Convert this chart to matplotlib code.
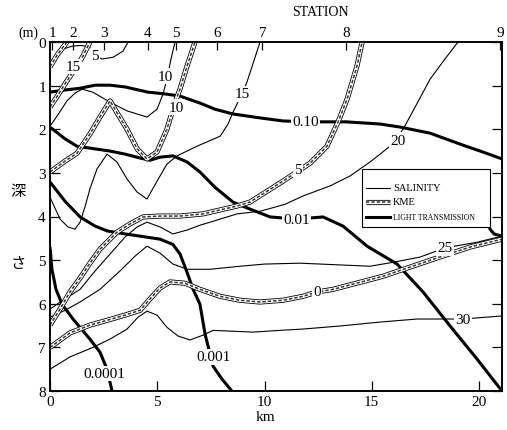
import matplotlib
matplotlib.use('Agg')
import matplotlib.pyplot as plt
from matplotlib.patches import Rectangle

plt.rcParams['font.family'] = ['Liberation Serif', 'DejaVu Serif']

# ---------------- data (km along section, depth in m) ----------------
stations = ['1', '2', '3', '4', '5', '6', '7', '8', '9']
station_km = [0.1, 1.07, 2.5, 4.57, 5.87, 7.8, 9.9, 13.8, 21.0]
x_ticks = [0, 5, 10, 15, 20]
depth_ticks = [0, 1, 2, 3, 4, 5, 6, 7, 8]

# salinity contours
sal5_km = [0.47, 0.61, 1.07, 1.5, 1.86, 2.10, 2.42, 2.94, 3.40, 3.64]
sal5_m = [0.21, 0.16, 0.09, 0.08, 0.13, 0.30, 0.39, 0.35, 0.21, 0.0]
sal10_km = [0, 0.37, 0.79, 1.17, 1.49, 2.0, 2.80, 3.6, 4.52, 4.99, 5.27, 5.45, 5.64, 5.83]
sal10_m = [1.93, 1.67, 1.35, 1.17, 1.08, 1.15, 1.38, 1.58, 1.72, 1.54, 1.19, 0.85, 0.39, 0.0]
sal15_km = [0, 0.47, 0.84, 1.17, 1.40, 1.63, 1.86, 2.19, 2.66, 3.12, 3.59, 4.06, 4.52, 4.99,
            5.45, 5.92, 6.85, 7.93, 8.30, 8.53, 8.76, 8.95, 9.18, 9.46, 9.79]
sal15_m = [3.56, 4.06, 4.24, 4.29, 4.13, 3.78, 3.37, 2.91, 2.57, 2.75, 3.14, 3.44, 3.60, 3.19,
           2.80, 2.61, 2.39, 2.16, 1.88, 1.61, 1.38, 1.19, 0.92, 0.50, 0.0]
sal20_km = [0, 0.70, 1.40, 2.10, 2.80, 3.50, 4.06, 4.52, 5.13, 5.73, 6.39, 6.99, 7.60, 8.72,
            9.79, 10.96, 11.79, 13.05, 13.99, 14.92, 15.85, 16.46, 17.02, 17.72, 18.41, 19.02]
sal20_m = [6.12, 5.89, 5.67, 5.25, 4.86, 4.47, 4.24, 4.13, 4.24, 4.40, 4.31, 4.20, 4.11, 3.94,
           3.88, 3.72, 3.53, 3.30, 3.07, 2.75, 2.39, 2.0, 1.49, 0.85, 0.39, 0.0]
sal25_km = [0, 0.70, 1.40, 2.33, 3.26, 3.96, 4.52, 5.13, 5.73, 6.39, 7.46, 8.86, 10.02, 11.66,
            13.52, 14.92, 15.99, 17.25, 18.41, 19.91, 21.07]
sal25_m = [6.31, 6.15, 5.96, 5.67, 5.25, 4.91, 4.68, 4.84, 5.09, 5.21, 5.21, 5.14, 5.09, 5.07,
           5.11, 5.14, 5.05, 4.93, 4.72, 4.59, 4.45]
sal30_km = [0, 0.93, 2.0, 2.80, 3.59, 4.10, 4.52, 4.99, 5.45, 5.97, 6.53, 7.13, 7.60, 8.53,
            9.46, 10.72, 11.79, 13.52, 15.38, 17.11, 19.25, 21.07]
sal30_m = [7.5, 7.22, 7.0, 6.81, 6.58, 6.31, 6.17, 6.26, 6.54, 6.74, 6.83, 6.72, 6.61, 6.63,
           6.65, 6.61, 6.58, 6.51, 6.42, 6.35, 6.35, 6.28]

# KME contours
kme_top_km = [0, 0.33, 0.79]
kme_top_m = [0.57, 0.30, 0.0]
kme15_km = [0, 0.37, 0.79, 1.17, 1.54, 1.86]
kme15_m = [1.49, 1.22, 0.89, 0.62, 0.32, 0.0]
kme10_km = [0, 0.70, 1.26, 1.86, 2.33, 2.80, 2.94, 3.59, 4.06, 4.52, 4.99, 5.45, 5.83, 6.06, 6.39, 6.76]
kme10_m = [2.98, 2.73, 2.55, 2.11, 1.72, 1.35, 1.47, 2.0, 2.45, 2.68, 2.52, 2.0, 1.38, 1.08, 0.55, 0.0]
kme5_km = [0, 0.47, 0.93, 1.40, 1.86, 2.33, 3.12, 3.73, 4.34, 5.13, 6.06, 7.13, 8.72, 9.32,
           10.86, 11.56, 12.12, 12.91, 13.43, 13.85, 14.31, 14.55]
kme5_m = [6.49, 6.12, 5.73, 5.41, 5.07, 4.75, 4.36, 4.17, 4.01, 3.99, 3.99, 3.94, 3.76, 3.67,
          3.19, 2.96, 2.78, 2.39, 1.83, 1.31, 0.55, 0.0]
kme0_km = [0, 0.93, 1.86, 2.66, 3.50, 4.20, 4.66, 5.13, 5.59, 6.29, 6.99, 7.93, 8.86, 9.79,
           10.86, 11.79, 12.45, 13.19, 15.52, 17.86, 19.58, 21.07]
kme0_m = [7.0, 6.67, 6.49, 6.38, 6.26, 6.15, 5.89, 5.64, 5.50, 5.53, 5.67, 5.83, 5.92, 5.96,
          5.92, 5.83, 5.73, 5.67, 5.37, 4.98, 4.70, 4.52]

# light transmission contours
lt010_km = [0, 0.70, 1.40, 2.10, 2.80, 3.50, 4.57, 5.36, 6.06, 6.99, 7.69, 8.53, 9.79, 10.86,
            12.12, 13.80, 15.38, 16.32, 17.72, 19.11, 20.05, 21.07]
lt010_m = [1.15, 1.10, 1.06, 0.99, 0.99, 1.03, 1.15, 1.19, 1.24, 1.40, 1.54, 1.65, 1.74, 1.81,
           1.83, 1.83, 1.88, 1.95, 2.09, 2.34, 2.50, 2.68]
lt001_km = [0, 0.70, 1.26, 2.10, 2.80, 3.50, 4.20, 4.66, 5.13, 5.73, 6.39, 6.99, 7.69, 8.53,
            9.32, 10.26, 11.51, 12.73, 13.66, 14.78, 16.18, 17.39, 18.65, 19.91, 21.07]
lt001_m = [1.95, 2.22, 2.39, 2.45, 2.50, 2.57, 2.66, 2.71, 2.64, 2.61, 2.75, 2.98, 3.33, 3.67,
           3.83, 4.01, 4.06, 4.01, 4.22, 4.68, 5.09, 5.73, 6.51, 7.27, 8.0]
lt0001_km = [0, 0.70, 1.40, 2.10, 2.66, 3.50, 4.20, 5.13, 5.73, 6.06, 6.39, 6.67, 6.99, 7.23,
             7.46, 7.60, 8.02, 8.48]
lt0001_m = [3.21, 3.65, 4.01, 4.22, 4.33, 4.40, 4.45, 4.52, 4.64, 4.86, 5.28, 5.67, 6.01, 6.70,
            7.15, 7.43, 7.73, 8.0]
lt00001_km = [0, 0.09, 0.28, 0.56, 1.07, 1.86, 2.33, 2.66, 2.89]
lt00001_m = [4.70, 5.21, 5.67, 6.01, 6.35, 6.81, 7.11, 7.50, 8.0]
lt_hook_km = [20.42, 20.51, 20.70, 21.07]
lt_hook_m = [4.11, 4.29, 4.40, 4.45]

# contour labels: (text, km, m)
sal_labels = [('5', 2.10, 0.31), ('10', 5.36, 0.78), ('15', 8.95, 1.19), ('20', 16.23, 2.25),
              ('25', 18.41, 4.72), ('30', 19.25, 6.35)]
kme_labels = [('15', 1.1, 0.56), ('10', 5.9, 1.49), ('5', 11.56, 2.93), ('0', 12.45, 5.71)]
lt_labels = [('0.10', 11.93, 1.83), ('0.01', 11.51, 4.06), ('0.001', 7.6, 7.22),
             ('0.0001', 2.52, 7.6)]

# ---------------- figure ----------------
fig = plt.figure(figsize=(5.07, 4.31), dpi=100)
ax = fig.add_axes([50 / 507, 1 - 392 / 431, 452 / 507, 349 / 431])
ax.set_xlim(0, 21.07)
ax.set_ylim(8, 0)


def thin(x, y, **kw):
    ax.plot(x, y, color='k', lw=0.8, zorder=2, **kw)


def thick(x, y, **kw):
    ax.plot(x, y, color='k', lw=2.2, zorder=2.5, solid_capstyle='butt', **kw)


def kme(x, y, **kw):
    ax.plot(x, y, color='k', lw=3.7, zorder=3, solid_capstyle='butt', **kw)
    ax.plot(x, y, color='w', lw=2.5, zorder=3.1, solid_capstyle='butt', **kw)
    ax.plot(x, y, color='#333333', lw=1.1, zorder=3.2, dashes=(2.2, 1.3), **kw)


for xs, ys in [(sal5_km, sal5_m), (sal10_km, sal10_m), (sal15_km, sal15_m),
               (sal20_km, sal20_m), (sal25_km, sal25_m), (sal30_km, sal30_m)]:
    thin(xs, ys)

for xs, ys in [(kme_top_km, kme_top_m), (kme15_km, kme15_m), (kme10_km, kme10_m),
               (kme5_km, kme5_m), (kme0_km, kme0_m)]:
    kme(xs, ys)

for xs, ys in [(lt010_km, lt010_m), (lt001_km, lt001_m), (lt0001_km, lt0001_m),
               (lt00001_km, lt00001_m), (lt_hook_km, lt_hook_m)]:
    thick(xs, ys)

lab_box = dict(boxstyle='square,pad=0.08', fc='white', ec='none')
for t, x, y in sal_labels + kme_labels + lt_labels:
    ax.text(x, y, t, ha='center', va='center', fontsize=11, bbox=lab_box, zorder=5)

# axes styling
for s in ax.spines.values():
    s.set_linewidth(1.2)
ax.set_yticks(depth_ticks)
ax.set_xticks(x_ticks)
ax.tick_params(direction='in', length=7, width=0.9, right=True, labelsize=11, pad=3)

ax2 = ax.twiny()
ax2.set_xlim(ax.get_xlim())
ax2.set_xticks(station_km)
ax2.set_xticklabels(stations)
ax2.tick_params(direction='in', length=6, width=0.9, labelsize=11, pad=2)
for s in ax2.spines.values():
    s.set_linewidth(1.2)

fig.text(320 / 507, 1 - 13 / 431, 'STATION', ha='center', va='center', fontsize=10)
fig.text(28 / 507, 1 - 33 / 431, '(m)', ha='center', va='center', fontsize=10)
fig.text(265 / 507, 1 - 418 / 431, 'km', ha='center', va='center', fontsize=11)
fig.text(18 / 507, 1 - 192 / 431, '深', ha='center', va='center', fontsize=11,
         family=['Noto Sans CJK JP', 'DejaVu Sans'])
fig.text(18 / 507, 1 - 264 / 431, 'さ', ha='center', va='center', fontsize=11,
         family=['Noto Sans CJK JP', 'DejaVu Sans'])

# legend (drawn by hand)
ax.add_patch(Rectangle((0.690, 0.470), 0.283, 0.166, transform=ax.transAxes,
                       fc='white', ec='black', lw=0.8, zorder=6))
ax.plot([0.699, 0.752], [0.582, 0.582], transform=ax.transAxes, color='k', lw=0.8, zorder=7)
ax.plot([0.699, 0.752], [0.542, 0.542], transform=ax.transAxes, color='k', lw=3.7, zorder=7,
        solid_capstyle='butt')
ax.plot([0.699, 0.752], [0.542, 0.542], transform=ax.transAxes, color='w', lw=2.5, zorder=7.1,
        solid_capstyle='butt')
ax.plot([0.699, 0.752], [0.542, 0.542], transform=ax.transAxes, color='#333333', lw=1.1,
        zorder=7.2, dashes=(2.2, 1.3))
ax.plot([0.699, 0.752], [0.499, 0.499], transform=ax.transAxes, color='k', lw=2.2, zorder=7)
ax.text(0.759, 0.582, 'SALINITY', transform=ax.transAxes, fontsize=7.5, va='center', zorder=8)
ax.text(0.759, 0.542, 'KME', transform=ax.transAxes, fontsize=7.5, va='center', zorder=8)
ax.text(0.759, 0.499, 'LIGHT TRANSMISSION', transform=ax.transAxes, fontsize=5.6,
        va='center', zorder=8)

fig.savefig('out.png', dpi=100)
